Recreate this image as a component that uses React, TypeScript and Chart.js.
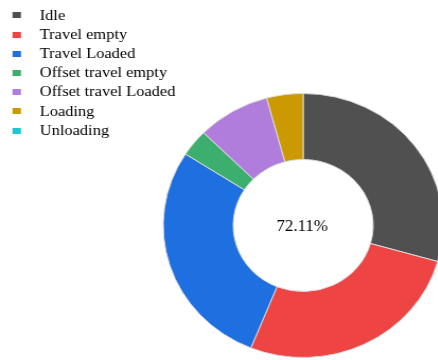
import React, { useEffect, useRef } from 'react';
import { Chart, registerables } from 'chart.js';

Chart.register(...registerables);

const LABELS = [
  'Idle',
  'Travel empty',
  'Travel Loaded',
  'Offset travel empty',
  'Offset travel Loaded',
  'Loading',
  'Unloading',
];
const VALUES = [29.4, 26.7, 28.0, 3.3, 8.4, 4.2, 0];
const COLORS = ['#505050', '#ef4444', '#1e6fe0', '#3cae6e', '#b07ddc', '#cc9a00', '#1bc7d0'];
const CENTER_LABEL = '72.11%';

const FONT_FAMILY = "'Liberation Serif', 'Times New Roman', serif";

function makeSwatch(color: string): HTMLCanvasElement {
  const c = document.createElement('canvas');
  c.width = 26;
  c.height = 6;
  const g = c.getContext('2d');
  if (g) {
    g.fillStyle = color;
    g.fillRect(8, 0, 8, 6);
  }
  return c;
}

export default function App() {
  const canvasRef = useRef<HTMLCanvasElement | null>(null);

  useEffect(() => {
    if (!canvasRef.current) return;
    const swatches = COLORS.map(makeSwatch);

    const centerText = {
      id: 'centerText',
      afterDatasetsDraw(chart: any) {
        const arc = chart.getDatasetMeta(0).data[0];
        if (!arc) return;
        const ctx = chart.ctx;
        ctx.save();
        ctx.font = `16px ${FONT_FAMILY}`;
        ctx.fillStyle = '#000';
        ctx.textAlign = 'center';
        ctx.textBaseline = 'middle';
        ctx.fillText(CENTER_LABEL, arc.x - 1, arc.y + 1);
        ctx.restore();
      },
    };

    const chart = new Chart(canvasRef.current, {
      type: 'doughnut',
      data: {
        labels: LABELS,
        datasets: [
          {
            data: VALUES,
            backgroundColor: COLORS,
            borderColor: '#dadada',
            borderWidth: 1,
          },
        ],
      },
      options: {
        responsive: false,
        animation: false,
        events: [],
        radius: 132,
        cutout: '50%',
        layout: { padding: 0 },
        plugins: {
          legend: {
            position: 'chartArea',
            align: 'start',
            labels: {
              usePointStyle: true,
              pointStyleWidth: 26,
              boxHeight: 6,
              padding: 3.7,
              textAlign: 'left',
              color: '#000',
              font: { family: FONT_FAMILY, size: 15.5 },
              generateLabels: (ch: any) =>
                LABELS.map((text, i) => ({
                  text,
                  fillStyle: COLORS[i],
                  strokeStyle: COLORS[i],
                  lineWidth: 0,
                  pointStyle: swatches[i],
                  hidden: !ch.getDataVisibility(i),
                  index: i,
                  fontColor: '#000',
                })),
            },
          },
          tooltip: { enabled: false },
        },
      } as any,
      plugins: [centerText],
    });

    return () => chart.destroy();
  }, []);

  return (
    <div
      style={{
        position: 'fixed',
        left: 0,
        top: 0,
        width: 438,
        height: 360,
        overflow: 'hidden',
        background: '#fff',
      }}
    >
      <div
        style={{
          position: 'absolute',
          left: 0,
          top: 0,
          width: 572,
          height: 443,
          transform: 'translate(0px, 4px) scaleX(1.06)',
          transformOrigin: '0 0',
        }}
      >
        <canvas ref={canvasRef} width={572} height={443} style={{ display: 'block' }} />
      </div>
    </div>
  );
}
